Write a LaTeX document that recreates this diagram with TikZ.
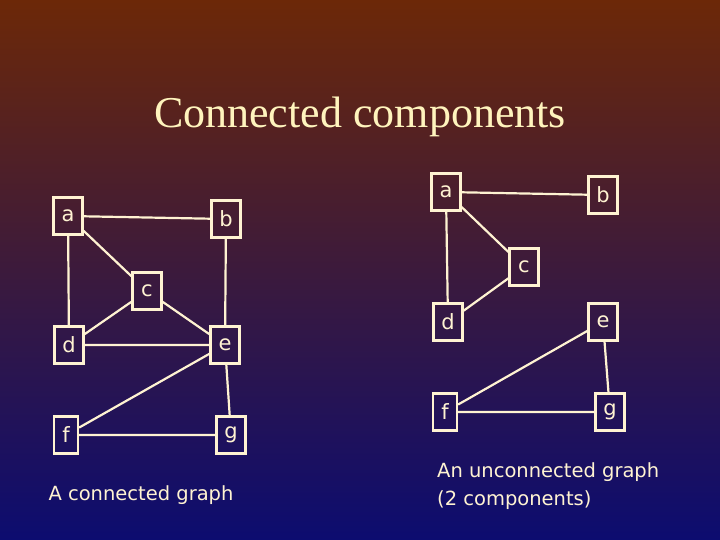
\documentclass[tikz,border=0pt]{standalone}
\usepackage{fontspec}
\newfontfamily\vsans{DejaVu Sans}
\newfontfamily\tser{Liberation Serif}
\begin{document}
\begin{tikzpicture}[x=1pt,y=-1pt,
  vbox/.style={draw=cream,line width=2.2pt,minimum width=29pt,minimum height=37pt,inner sep=0pt,text=cream,font=\vsans\fontsize{21}{21}\selectfont},
  edge/.style={draw=cream,line width=2.2pt}]
\definecolor{cream}{HTML}{FFF3D2}
\shade[top color={rgb,255:red,108;green,40;blue,8},middle color={rgb,255:red,80;green,30;blue,75},bottom color={rgb,255:red,12;green,12;blue,112}] (0,0) rectangle (720,540);
\useasboundingbox (0,0) rectangle (720,540);
\node[text=cream!90!yellow,font=\tser\fontsize{44}{44}\selectfont] (title) at (360,117) {Connected components};
% left graph
\node[vbox] (a) at (68,216) {a};
\node[vbox] (b) at (226,219) {b};
\node[vbox] (c) at (147,291) {c};
\node[vbox] (d) at (69,345) {d};
\node[vbox] (e) at (225,345) {e};
\node[vbox,minimum width=24pt] (f) at (66,435) {f};
\node[vbox] (g) at (231,435) {g};
\draw[edge] (a)--(b) (a)--(c) (a)--(d) (b)--(e) (c)--(d) (c)--(e) (d)--(e) (e)--(f) (e)--(g) (f)--(g);
\node[text=cream,font=\vsans\fontsize{19.5}{19.5}\selectfont] (cap1) at (141,495) {A connected graph};
% right graph
\node[vbox] (a2) at (446,192) {a};
\node[vbox] (b2) at (603,195) {b};
\node[vbox] (c2) at (524,267) {c};
\node[vbox] (d2) at (448,322) {d};
\node[vbox] (e2) at (603,322) {e};
\node[vbox,minimum width=24pt] (f2) at (445,412) {f};
\node[vbox] (g2) at (610,412) {g};
\draw[edge] (a2)--(b2) (a2)--(c2) (a2)--(d2) (c2)--(d2) (e2)--(f2) (e2)--(g2) (f2)--(g2);
\node[text=cream,font=\vsans\fontsize{19.5}{28}\selectfont,align=left,anchor=west,inner sep=0pt] (cap2) at (437,486) {An unconnected graph\\(2 components)};
\end{tikzpicture}
\end{document}
